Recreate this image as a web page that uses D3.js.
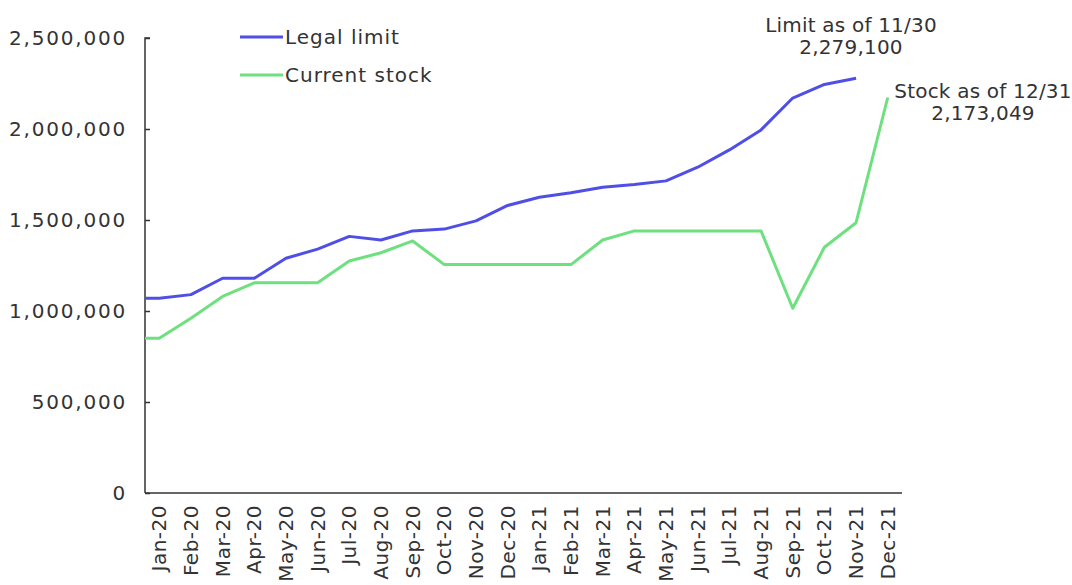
<!DOCTYPE html>
<html>
<head>
<meta charset="utf-8">
<script src="https://cdn.jsdelivr.net/npm/d3@7"></script>
<style>
  body { margin: 0; background: #fff; }
  text { font-family: "DejaVu Sans", sans-serif; fill: #333; font-size: 20px; letter-spacing: 0.5px; }
</style>
</head>
<body>
<svg id="chart" width="1072" height="585"></svg>
<script>
// months on the x axis
const months = ["Jan-20","Feb-20","Mar-20","Apr-20","May-20","Jun-20","Jul-20","Aug-20","Sep-20","Oct-20","Nov-20","Dec-20",
                "Jan-21","Feb-21","Mar-21","Apr-21","May-21","Jun-21","Jul-21","Aug-21","Sep-21","Oct-21","Nov-21","Dec-21"];

// legal limit (no value for Dec-21)
const legalLimit = [1070000,1090000,1180000,1180000,1290000,1340000,1410000,1390000,1440000,1450000,1495000,1580000,
                    1625000,1650000,1680000,1695000,1715000,1790000,1885000,1995000,2170000,2245000,2279100,null];

// current stock
const currentStock = [850000,960000,1080000,1155000,1155000,1155000,1275000,1320000,1385000,1255000,1255000,1255000,
                      1255000,1255000,1390000,1440000,1440000,1440000,1440000,1440000,1015000,1350000,1485000,2173049];

const yTicks = [0, 500000, 1000000, 1500000, 2000000, 2500000];

const svg = d3.select("#chart");
const x0 = 145, x1 = 902, yTop = 38, yBottom = 493;

const x = d3.scalePoint().domain(months).range([x0, x1]).padding(0.45);
const y = d3.scaleLinear().domain([0, 2500000]).range([yBottom, yTop]);

const fmt = d3.format(",");

// y axis
const yAxis = svg.append("g")
  .attr("transform", `translate(${x0},0)`)
  .call(d3.axisRight(y).tickValues(yTicks).tickSize(5).tickFormat(""));
yAxis.select(".domain").attr("stroke", "#333").attr("stroke-width", 1.5).attr("d", `M5,${yTop}H0V${yBottom}`);
yAxis.selectAll(".tick line").attr("stroke", "#333").attr("stroke-width", 1.5);

svg.append("g").selectAll("text")
  .data(yTicks)
  .join("text")
  .attr("x", 127)
  .attr("y", d => y(d) + 7)
  .attr("text-anchor", "end")
  .style("letter-spacing", "1.8px")
  .text(d => fmt(d));

// x axis
svg.append("line")
  .attr("x1", x0).attr("x2", x1)
  .attr("y1", yBottom).attr("y2", yBottom)
  .attr("stroke", "#333").attr("stroke-width", 1.5);

svg.append("g").selectAll("text")
  .data(months)
  .join("text")
  .attr("transform", d => `translate(${x(d) + 7},505) rotate(-90)`)
  .attr("text-anchor", "end")
  .text(d => d);

// lines, with a flat lead-in from the axis to the first month
function series(values) {
  const pts = values.map((v, i) => ({ x: x(months[i]), v }));
  return [{ x: x0, v: values[0] }].concat(pts);
}

const line = d3.line()
  .defined(d => d.v != null)
  .x(d => d.x)
  .y(d => y(d.v));

svg.append("path")
  .datum(series(currentStock))
  .attr("fill", "none")
  .attr("stroke", "#6ee07f")
  .attr("stroke-width", 3)
  .attr("stroke-linejoin", "round")
  .attr("d", line);

svg.append("path")
  .datum(series(legalLimit))
  .attr("fill", "none")
  .attr("stroke", "#4f4fe8")
  .attr("stroke-width", 3)
  .attr("stroke-linejoin", "round")
  .attr("d", line);

// legend
const legend = [
  { name: "Legal limit", color: "#4f4fe8" },
  { name: "Current stock", color: "#6ee07f" }
];
const lg = svg.append("g").selectAll("g").data(legend).join("g")
  .attr("transform", (d, i) => `translate(240,${37 + i * 38})`);
lg.append("line").attr("x1", 0).attr("x2", 43).attr("stroke", d => d.color).attr("stroke-width", 3);
lg.append("text").attr("x", 45).attr("y", 7).style("letter-spacing", "1px").text(d => d.name);

// annotations
const notes = [
  { lines: ["Limit as of 11/30", fmt(legalLimit[22])], cx: 851, y: 32 },
  { lines: ["Stock as of 12/31", fmt(currentStock[23])], cx: 983, y: 98 }
];
notes.forEach(n => {
  svg.append("text")
    .attr("x", n.cx).attr("y", n.y)
    .attr("text-anchor", "middle")
    .style("letter-spacing", "0.2px")
    .selectAll("tspan").data(n.lines).join("tspan")
    .attr("x", n.cx)
    .attr("dy", (d, i) => i === 0 ? 0 : 22)
    .text(d => d);
});
</script>
</body>
</html>
